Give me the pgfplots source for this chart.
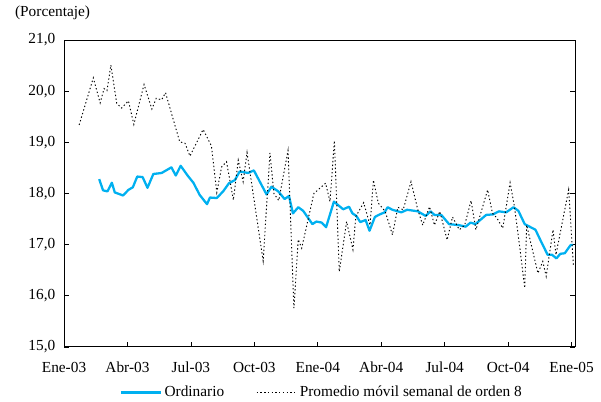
\documentclass[border=0pt]{standalone}
\usepackage{pgfplots}
\pgfplotsset{compat=1.18}
\usepackage{fontspec}
\setmainfont{Liberation Serif}
\definecolor{ordcyan}{HTML}{00B0F0}

% Ordinario (linea continua), x en semanas desde ene-03
\pgfplotstableread{
w v
7.2 18.28
8.0 18.06
8.9 18.04
9.8 18.21
10.4 18.02
12.1 17.96
13.2 18.07
14.1 18.12
15.0 18.33
16.1 18.32
17.1 18.11
18.3 18.38
20.0 18.40
22.0 18.51
22.9 18.35
23.9 18.54
25.4 18.34
26.5 18.21
27.8 17.97
29.3 17.79
29.9 17.92
31.3 17.91
32.6 18.04
33.8 18.20
35.0 18.26
36.0 18.43
37.7 18.40
38.9 18.45
41.5 17.98
42.5 18.13
43.9 18.04
45.2 17.89
46.1 17.95
46.9 17.61
48.0 17.73
49.0 17.66
50.9 17.40
51.7 17.45
52.8 17.43
53.7 17.34
55.3 17.84
57.2 17.69
58.4 17.74
59.1 17.61
59.9 17.56
60.7 17.44
61.8 17.48
62.6 17.27
63.7 17.54
64.7 17.59
65.7 17.63
66.3 17.73
67.3 17.68
69.1 17.63
70.3 17.68
72.5 17.65
74.1 17.56
75.1 17.65
75.9 17.58
77.3 17.58
78.9 17.40
80.9 17.38
82.3 17.35
83.3 17.43
84.3 17.40
86.5 17.58
87.9 17.59
89.1 17.65
90.6 17.63
92.1 17.73
93.1 17.66
94.4 17.40
96.6 17.29
97.9 17.03
99.1 16.80
100.0 16.80
100.9 16.73
101.7 16.82
102.6 16.83
103.8 16.99
104.3 16.99
}\ordinario

% Promedio movil semanal de orden 8 (linea punteada)
\pgfplotstableread{
w v
3.1 19.34
6.0 20.26
7.4 19.77
8.2 20.05
8.8 20.01
9.6 20.51
10.8 19.76
11.8 19.67
13.2 19.81
14.3 19.35
16.4 20.13
18.0 19.65
18.9 19.86
20.0 19.83
20.8 19.97
23.7 19.01
24.8 18.98
25.8 18.73
28.5 19.25
30.2 18.93
31.3 18.02
32.3 18.52
33.3 18.62
34.7 17.87
35.7 18.65
36.7 18.23
37.5 18.80
40.8 16.68
42.2 18.79
43.0 18.00
44.0 17.86
45.9 18.84
47.1 15.76
48.0 17.10
48.7 16.93
51.2 18.00
53.6 18.20
54.5 17.84
55.4 19.03
56.4 16.47
57.9 17.45
59.2 16.90
59.8 17.55
61.4 17.82
62.7 17.38
63.4 18.26
64.4 17.81
65.8 17.65
67.3 17.19
68.4 17.73
69.5 17.68
71.1 18.23
72.5 17.68
73.5 17.38
74.9 17.74
75.9 17.38
77.0 17.65
78.5 17.09
79.6 17.54
81.0 17.29
82.1 17.38
83.4 17.86
84.4 17.29
86.8 18.07
87.8 17.61
88.7 17.52
89.9 17.32
91.4 18.21
92.3 17.74
93.5 16.86
94.4 16.15
94.8 17.38
97.1 16.44
98.1 16.67
98.8 16.38
100.2 17.29
100.8 16.80
103.4 18.07
104.4 16.57
}\promedio

\begin{document}
\begin{tikzpicture}
\begin{axis}[
    scale only axis,
    width=383pt, height=230pt,
    xmin=0, xmax=104.7,
    ymin=15, ymax=21,
    xtick={0,13,26,39,52,65,78,91,104},
    xticklabels={Ene-03,Abr-03,Jul-03,Oct-03,Ene-04,Abr-04,Jul-04,Oct-04,Ene-05},
    ytick={15,16,...,21},
    xtick pos=left, ytick pos=both,
    tick align=inside,
    major tick length=4pt,
    tick style={black, line width=0.5pt},
    axis line style={line width=0.6pt},
    font=\fontsize{11.5}{13}\selectfont,
    /pgf/number format/assume math mode=true,
    y tick label style={/pgf/number format/fixed, /pgf/number format/fixed zerofill,
        /pgf/number format/precision=1, /pgf/number format/use comma, xshift=-3pt},
    x tick label style={yshift=-8pt},
    clip=false,
    legend style={draw=none, fill=none, at={(0.505,-0.11)}, anchor=north,
        legend columns=2, /tikz/every even column/.append style={column sep=22pt},
        font=\fontsize{11.5}{13}\selectfont},
    legend image code/.code={\draw[#1] (0pt,0pt) -- (30pt,0pt);},
  ]
  \addplot[ordcyan, line width=1.7pt, line join=round] table[x=w, y=v] {\ordinario};
  \addlegendentry{Ordinario}
  \addplot[black, line width=0.7pt, dash pattern=on 1pt off 1.8pt] table[x=w, y=v] {\promedio};
  \addlegendentry{Promedio móvil semanal de orden 8}
  \node[anchor=west] at (rel axis cs:-0.105,1.09) {(Porcentaje)};
\end{axis}
\pgfresetboundingbox
\path[use as bounding box] ([xshift=-48pt,yshift=-41.25pt]current axis.south west) rectangle ([xshift=19.5pt,yshift=30pt]current axis.north east);
\end{tikzpicture}
\end{document}
